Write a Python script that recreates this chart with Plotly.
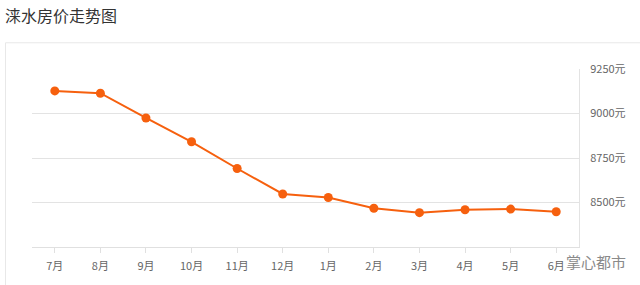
import plotly.graph_objects as go

months = ["7月", "8月", "9月", "10月", "11月", "12月", "1月", "2月", "3月", "4月", "5月", "6月"]
prices = [9127, 9114, 8975, 8841, 8691, 8548, 8528, 8468, 8443, 8459, 8463, 8448]
y_ticks = [8500, 8750, 9000, 9250]
y_tick_labels = ["8500元", "8750元", "9000元", "9250元"]

W, H = 640, 285
L, R, T, B = 32, 61, 69, 36
pw, ph = W - L - R, H - T - B

def px(x):
    return (x - L) / pw

def py(y):
    return (H - B - y) / ph

FONT = "Microsoft YaHei, Noto Sans CJK SC, sans-serif"

fig = go.Figure()
fig.add_trace(go.Scatter(
    x=months, y=prices, mode="lines+markers",
    line=dict(color="#f6600e", width=2),
    marker=dict(color="#f6600e", size=9),
    hoverinfo="x+y", showlegend=False,
))

fig.update_layout(
    width=W, height=H,
    margin=dict(l=L, r=R, t=T, b=B),
    paper_bgcolor="white", plot_bgcolor="white",
    font=dict(family=FONT, size=11, color="#666"),
    title=dict(text="涞水房价走势图", x=5 / W, xanchor="left", xref="container",
               y=1 - 16 / H, yanchor="middle", yref="container",
               font=dict(family=FONT, size=16, color="#333")),
    xaxis=dict(type="category", range=[-0.5, len(months) - 0.5], showgrid=False,
               showline=True, linecolor="#e0e0e0",
               linewidth=1, ticks="outside", ticklen=5, tickcolor="#e0e0e0",
               ticklabelstandoff=4, zeroline=False, fixedrange=True,
               tickfont=dict(size=11, color="#666")),
    yaxis=dict(side="right", range=[8250, 9250], tickvals=y_ticks, ticktext=y_tick_labels,
               showgrid=True, gridcolor="#e3e3e3", gridwidth=1, showline=True,
               linecolor="#e3e3e3", linewidth=1, zeroline=False, ticks="",
               ticklabelstandoff=8, fixedrange=True,
               tickfont=dict(size=11, color="#666")),
    shapes=[dict(type="rect", xref="paper", yref="paper",
                 x0=px(5.5), x1=px(660), y0=py(300), y1=py(42.5),
                 line=dict(color="#e8e8e8", width=1), fillcolor="rgba(0,0,0,0)",
                 layer="below")],
    annotations=[dict(text="掌心都市", xref="paper", yref="paper",
                      x=px(596), y=py(264), xanchor="center", yanchor="middle",
                      showarrow=False, font=dict(family=FONT, size=15, color="#8a8a8a"))],
)

fig.write_html("out.html")
